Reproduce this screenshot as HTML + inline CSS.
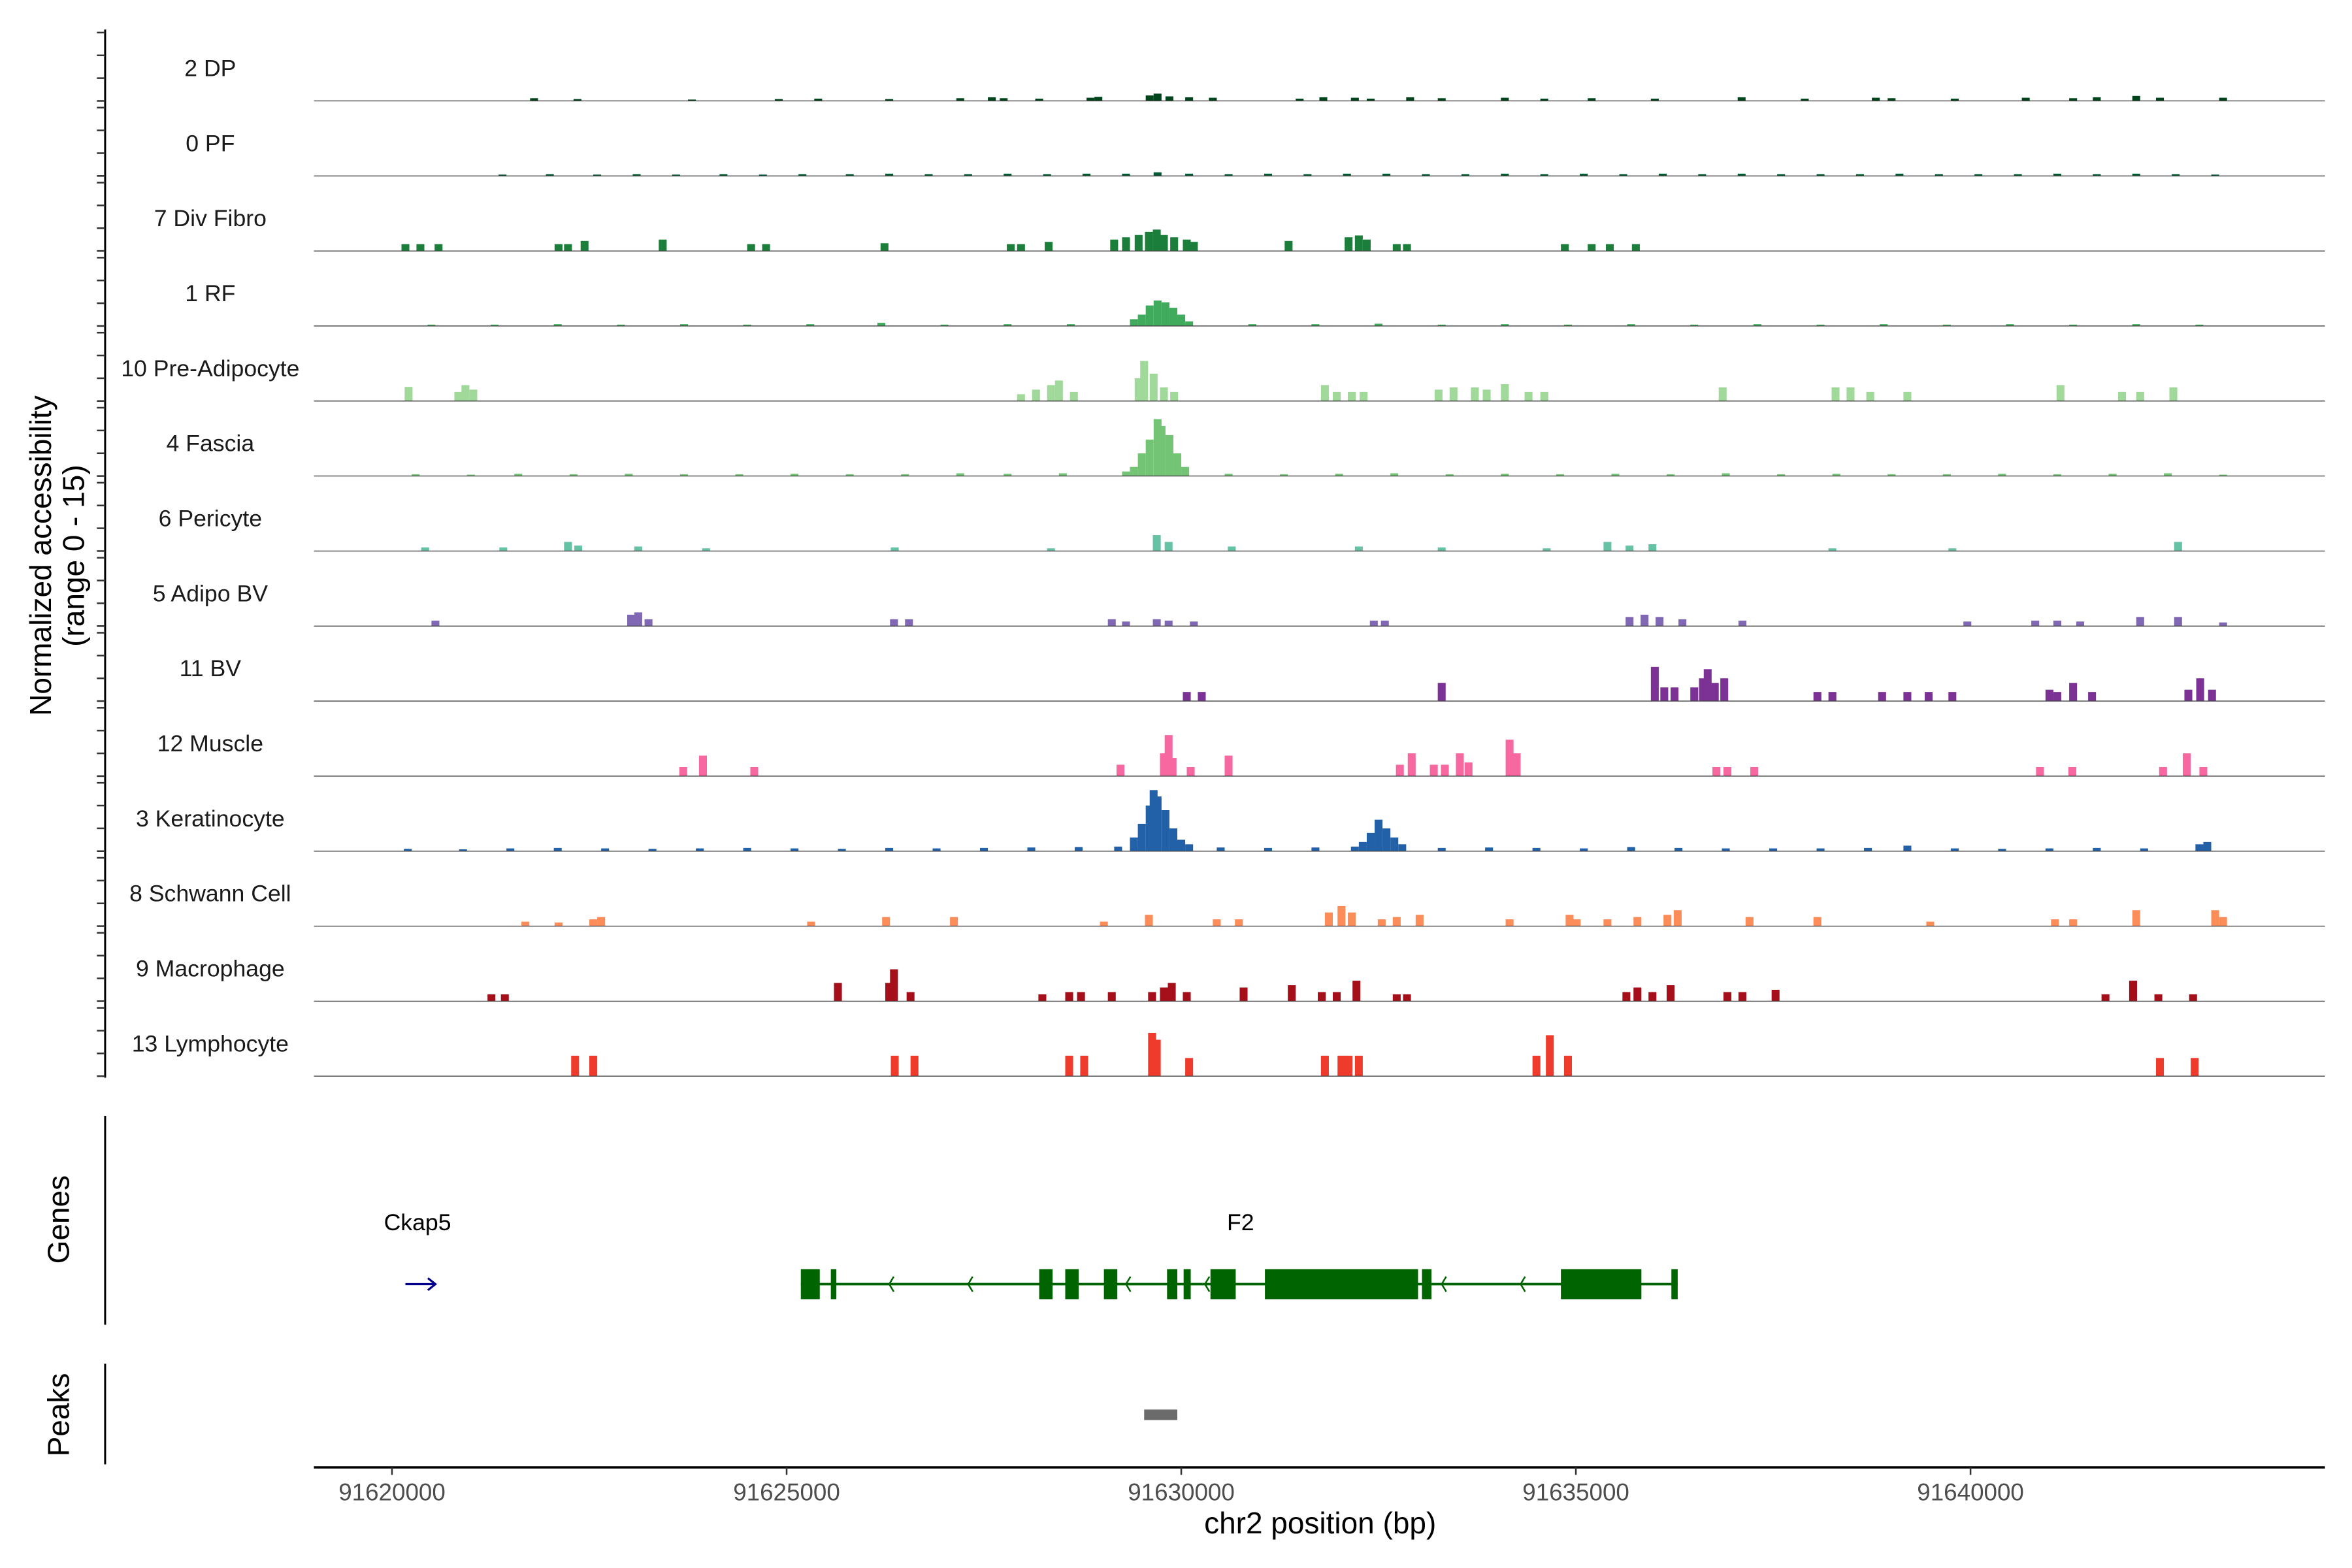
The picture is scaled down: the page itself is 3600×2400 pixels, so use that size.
<!DOCTYPE html>
<html><head><meta charset="utf-8">
<style>
html,body{margin:0;padding:0;background:#fff;}
svg{display:block;font-family:"Liberation Sans",Arial,sans-serif;}
</style></head>
<body>
<svg id="chart" width="3600" height="2400" viewBox="0 0 1566 1044" preserveAspectRatio="xMinYMin meet" xmlns="http://www.w3.org/2000/svg">
<g id="tracks"></g>
<g id="axes"></g>
<g id="genes"></g>
<g id="peaks"></g>
</svg>
<script>
// ---- data (positions in kb offset from 91,620,000; values on 0-15 scale) ----
const trackNames = ["2 DP","0 PF","7 Div Fibro","1 RF","10 Pre-Adipocyte","4 Fascia","6 Pericyte","5 Adipo BV","11 BV","12 Muscle","3 Keratinocyte","8 Schwann Cell","9 Macrophage","13 Lymphocyte"];
const trackColors = ["#00441b","#005a32","#1b7f3b","#41ab5d","#a1d99b","#74c476","#66c2a4","#8068b5","#7b3294","#f768a1","#2260a8","#fc8d59","#a50f1a","#ef3b2c"];
const dpBins = [[1.8,.6],[2.35,.4],[3.8,.3],[4.9,.4],[5.4,.5],[6.3,.4],[7.2,.6],[7.6,.8],[7.75,.6],[8.2,.5],[8.85,.7],[8.95,.9],[9.6,1.2],[9.7,1.6],[9.85,1.0],[10.1,.8],[10.4,.7],[11.5,.5],[11.8,.8],[12.2,.7],[12.4,.5],[12.9,.8],[13.3,.6],[14.1,.7],[14.6,.5],[15.2,.6],[16.0,.5],[17.1,.8],[17.9,.5],[18.8,.7],[19.0,.6],[19.8,.5],[20.7,.7],[21.3,.6],[21.6,.8],[22.1,1.1],[22.4,.7],[23.2,.7]];
const pfBins = [[1.4,.3],[2.0,.4],[2.6,.3],[3.1,.4],[3.6,.3],[4.2,.4],[4.7,.3],[5.2,.4],[5.8,.4],[6.3,.5],[6.8,.4],[7.3,.4],[7.8,.5],[8.3,.4],[8.8,.5],[9.3,.5],[9.7,.8],[10.1,.5],[10.6,.4],[11.1,.5],[11.6,.4],[12.1,.5],[12.6,.5],[13.1,.4],[13.6,.4],[14.1,.5],[14.6,.4],[15.1,.5],[15.6,.4],[16.1,.5],[16.6,.4],[17.1,.5],[17.6,.4],[18.1,.4],[18.6,.4],[19.1,.5],[19.6,.4],[20.1,.4],[20.6,.4],[21.1,.5],[21.6,.4],[22.1,.5],[22.6,.4],[23.1,.3]];
const divFibroBins = [[0.17,1.5],[0.36,1.5],[0.59,1.5],[2.11,1.5],[2.23,1.5],[2.44,2.2],[3.43,2.5],[4.55,1.5],[4.74,1.5],[6.24,1.7],[7.84,1.5],[7.97,1.5],[8.32,2],[9.15,2.5],[9.3,3],[9.46,3.5],[9.59,4.2],[9.69,4.7],[9.78,3.5],[9.91,3],[10.07,2.5],[10.16,2],[11.36,2.2],[12.12,3],[12.25,3.4],[12.35,2.5],[12.73,1.5],[12.86,1.5],[14.86,1.5],[15.2,1.5],[15.43,1.5],[15.76,1.5]];
const rfBins = [[0.5,.3],[1.3,.3],[2.1,.4],[2.9,.3],[3.7,.4],[4.5,.3],[5.3,.4],[6.2,.7],[7.0,.3],[7.8,.4],[8.6,.4],[9.4,1.5],[9.5,2.5],[9.6,4.5],[9.7,5.6],[9.8,5.2],[9.9,4],[10.0,2.5],[10.1,1],[10.9,.4],[11.7,.4],[12.5,.5],[13.3,.3],[14.1,.4],[14.9,.3],[15.7,.4],[16.5,.3],[17.3,.4],[18.1,.3],[18.9,.4],[19.7,.3],[20.5,.4],[21.3,.3],[22.1,.4],[22.9,.3]];
const preAdipoBins = [[0.21,3.1],[0.84,2],[0.93,3.5],[1.03,2.5],[7.97,1.5],[8.16,2.5],[8.35,3.5],[8.45,4.5],[8.64,2],[9.46,5],[9.53,8.8],[9.65,6],[9.78,3],[9.91,2],[11.82,3.5],[11.97,2],[12.16,2],[12.31,2],[13.26,2.5],[13.45,3],[13.72,3],[13.87,2.5],[14.1,3.7],[14.4,2],[14.6,2],[16.86,3],[18.29,3],[18.48,3],[18.73,2],[19.2,2],[21.14,3.5],[21.92,2],[22.15,2],[22.57,3]];
const fasciaBins = [[0.3,.4],[1.0,.3],[1.6,.5],[2.3,.4],[3.0,.5],[3.7,.4],[4.4,.4],[5.1,.5],[5.8,.4],[6.5,.4],[7.2,.6],[7.8,.5],[8.5,.6],[9.3,1],[9.4,2],[9.5,5],[9.6,8],[9.7,12.5],[9.75,11],[9.85,9],[9.95,5],[10.05,2],[10.6,.5],[11.3,.4],[12.0,.5],[12.7,.6],[13.4,.4],[14.1,.5],[14.8,.4],[15.5,.5],[16.2,.4],[16.9,.6],[17.6,.4],[18.3,.5],[19.0,.4],[19.7,.4],[20.4,.5],[21.1,.4],[21.8,.5],[22.5,.6],[23.2,.3]];
const pericyteBins = [[0.42,.8],[1.41,.8],[2.23,2],[2.36,1.2],[3.12,1],[3.98,.6],[6.37,.8],[8.35,.6],[9.69,3.5],[9.84,2],[10.64,1],[12.25,1],[13.3,.8],[14.63,.6],[15.4,2],[15.68,1.2],[15.97,1.5],[18.25,.6],[19.77,.6],[22.63,2]];
const adipoBvBins = [[0.55,1.2],[3.03,2.5],[3.12,3],[3.25,1.5],[6.36,1.5],[6.55,1.5],[9.12,1.5],[9.3,1],[9.69,1.5],[9.84,1.2],[10.16,1],[12.44,1.2],[12.58,1.2],[15.68,2],[15.87,2.5],[16.06,2],[16.35,1.5],[17.11,1.2],[19.96,1],[20.82,1.2],[21.1,1.2],[21.39,1],[22.15,2],[22.63,2],[23.2,.8]];
const bvBins = [[10.07,2],[10.26,2],[13.3,4],[16.0,7.5],[16.12,3],[16.25,3],[16.5,3],[16.61,5],[16.67,7],[16.76,4],[16.88,5],[18.06,2],[18.25,2],[18.88,2],[19.2,2],[19.47,2],[19.77,2],[21.0,2.5],[21.1,2],[21.3,4],[21.54,2],[22.76,2.5],[22.91,5],[23.06,2.5]];
const muscleBins = [[3.69,2],[3.94,4.5],[4.59,2],[9.23,2.5],[9.78,5],[9.84,9],[9.89,4],[10.12,2],[10.6,4.5],[12.77,2.5],[12.92,5],[13.2,2.5],[13.34,2.5],[13.53,5],[13.64,3],[14.16,8],[14.25,5],[16.78,2],[16.92,2],[17.26,2],[20.88,2],[21.29,2],[22.44,2],[22.74,5],[22.95,2]];
const keratinocyteBins = [[0.2,.5],[0.9,.4],[1.5,.6],[2.1,.7],[2.7,.6],[3.3,.5],[3.9,.6],[4.5,.7],[5.1,.6],[5.7,.5],[6.3,.7],[6.9,.6],[7.5,.7],[8.1,.8],[8.7,.9],[9.2,1],[9.4,3],[9.5,6],[9.6,10],[9.65,13.4],[9.7,12],[9.8,9],[9.9,5],[10.0,2.5],[10.1,1.5],[10.5,.8],[11.1,.7],[11.7,.8],[12.2,1],[12.3,2],[12.4,4],[12.5,6.9],[12.6,5],[12.7,3],[12.8,1.5],[13.3,.7],[13.9,.8],[14.5,.7],[15.1,.6],[15.7,.9],[16.3,.7],[16.9,.6],[17.5,.6],[18.1,.6],[18.7,.7],[19.2,1.2],[19.8,.6],[20.4,.5],[21.0,.6],[21.6,.7],[22.2,.6],[22.9,1.5],[23.0,2]];
const schwannBins = [[1.69,1],[2.11,.8],[2.55,1.5],[2.65,2],[5.31,1],[6.26,2],[7.12,2],[9.02,1],[9.59,2.5],[10.45,1.5],[10.73,1.5],[11.87,3],[12.03,4.4],[12.16,3],[12.54,1.5],[12.73,2],[13.02,2.5],[14.16,1.5],[14.92,2.5],[15.01,1.5],[15.4,1.5],[15.78,2],[16.16,2.5],[16.29,3.5],[17.2,2],[18.06,2],[19.49,1],[21.07,1.5],[21.3,1.5],[22.1,3.5],[23.1,3.5],[23.2,2]];
const macrophageBins = [[1.26,1.5],[1.43,1.5],[5.65,4],[6.3,4],[6.36,7],[6.57,2],[8.24,1.5],[8.58,2],[8.73,2],[9.12,2],[9.63,2],[9.78,3],[9.88,4],[10.07,2],[10.79,3],[11.4,3.5],[11.78,2],[11.97,2],[12.22,4.5],[12.73,1.5],[12.86,1.5],[15.64,2],[15.78,3],[15.97,2],[16.2,3.5],[16.92,2],[17.11,2],[17.53,2.5],[21.71,1.5],[22.06,4.5],[22.38,1.5],[22.82,1.5]];
const lymphocyteBins = [[2.32,4.5],[2.55,4.5],[6.37,4.5],[6.62,4.5],[8.58,4.5],[8.77,4.5],[9.63,9.5],[9.69,8],[10.1,4],[11.82,4.5],[12.03,4.5],[12.12,4.5],[12.25,4.5],[14.5,4.5],[14.67,9],[14.9,4.5],[22.4,4],[22.84,4]];
const trackBins = [dpBins,pfBins,divFibroBins,rfBins,preAdipoBins,fasciaBins,pericyteBins,adipoBvBins,bvBins,muscleBins,keratinocyteBins,schwannBins,macrophageBins,lymphocyteBins];
const xTicks = [91620000,91625000,91630000,91635000,91640000];
const f2Exons = [[5.18,5.42],[5.56,5.63],[8.2,8.37],[8.53,8.7],[9.02,9.19],[9.82,9.95],[10.03,10.12],[10.37,10.69],[11.06,13.0],[13.05,13.17],[14.81,15.83],[16.21,16.29]];
const f2Span = [5.18,16.29];
const f2Arrows = [6.3,7.3,9.3,10.3,13.3,14.3];
const ckap5Span = [0.17,0.55];
const peakRegions = [[9.53,9.95]];

// ---- scales ----
const ORIGIN = 91620000;
const X0 = 261, PX_PER_KB = 52.55;
function xk(kb){ return X0 + kb*PX_PER_KB; }
function xbp(bp){ return xk((bp-ORIGIN)/1000); }
const TRACK_TOP = 21.7, TRACK_STEP = 49.95, UNIT = 45.5/15;
function baseY(i){ return TRACK_TOP + 45.5 + i*TRACK_STEP; }
const BIN_KB = 0.1;
const NS = "http://www.w3.org/2000/svg";
function mk(tag, attrs, parent){ const e=document.createElementNS(NS,tag); for(const k in attrs) e.setAttribute(k,attrs[k]); parent.appendChild(e); return e; }

const tracksG = document.getElementById('tracks');
trackNames.forEach((name,i)=>{
  const g = mk('g',{},tracksG);
  
  
  const by = baseY(i);
  trackBins[i].forEach(b=>{
    const h = b[1]*UNIT;
    const r = mk('rect',{x:xk(b[0]-BIN_KB/2),y:by-h,width:BIN_KB*PX_PER_KB,height:h,fill:trackColors[i]},g);
    
    
  });
  const bl = mk('line',{x1:209,x2:1548,y1:by,y2:by,stroke:'#444','stroke-width':0.6},g);
  
  
  const t = mk('text',{x:140,y:by-16.5,'text-anchor':'middle','font-size':15.5,fill:'#1a1a1a'},g);
  t.textContent = name;
  
  
});

// ---- axes ----
const axG = document.getElementById('axes');
const yl = mk('line',{x1:70,x2:70,y1:TRACK_TOP-2,y2:baseY(13)+1,stroke:'#000','stroke-width':1.3},axG);


trackNames.forEach((n,i)=>{
  for(let k=0;k<4;k++){
    const y = baseY(i) - k*5*UNIT;
    const tk = mk('line',{x1:64.5,x2:70,y1:y,y2:y,stroke:'#333','stroke-width':1.1},axG);
    
    
  }
});
const yt = mk('text',{transform:'translate(35,370) rotate(-90)','text-anchor':'middle','font-size':20,fill:'#000'},axG);


const ts1 = mk('tspan',{x:0,dy:-1},yt); ts1.textContent='Normalized accessibility';
const ts2 = mk('tspan',{x:0,dy:22},yt); ts2.textContent='(range 0 - 15)';

const xl = mk('line',{x1:209,x2:1548,y1:977,y2:977,stroke:'#000','stroke-width':1.5},axG);


xTicks.forEach(v=>{
  const x = xbp(v);
  const tk = mk('line',{x1:x,x2:x,y1:977,y2:982,stroke:'#333','stroke-width':1.1},axG);
  
  
  const lb = mk('text',{x:x,y:999,'text-anchor':'middle','font-size':16,fill:'#4d4d4d'},axG);
  lb.textContent = v;
  
  
});
const xt = mk('text',{x:879,y:1021,'text-anchor':'middle','font-size':20,fill:'#000'},axG);
xt.textContent = 'chr2 position (bp)';



// ---- genes ----
const gG = document.getElementById('genes');
const gl = mk('line',{x1:70,x2:70,y1:743,y2:882,stroke:'#000','stroke-width':1.3},gG);


const gt = mk('text',{transform:'translate(46,812) rotate(-90)','text-anchor':'middle','font-size':20,fill:'#000'},gG);
gt.textContent='Genes';


const GY = 855;
const intron = mk('line',{x1:xk(f2Span[0]),x2:xk(f2Span[1]),y1:GY,y2:GY,stroke:'#006400','stroke-width':1.6},gG);


f2Exons.forEach(e=>{
  const r = mk('rect',{x:xk(e[0]),y:GY-10,width:Math.max(2,xk(e[1])-xk(e[0])),height:20,fill:'#006400'},gG);
  
  
});
f2Arrows.forEach(a=>{
  const x = xk(a);
  const p = mk('path',{d:`M${x+3},${GY-5} L${x},${GY} L${x+3},${GY+5}`,fill:'none',stroke:'#006400','stroke-width':1.1},gG);
  
  
});
const f2l = mk('text',{x:826,y:819,'text-anchor':'middle','font-size':15.5,fill:'#000'},gG);
f2l.textContent='F2';


const ck = mk('path',{d:`M${xk(ckap5Span[0])},${GY} L${xk(ckap5Span[1])},${GY} M${xk(ckap5Span[1])-5},${GY-4} L${xk(ckap5Span[1])},${GY} L${xk(ckap5Span[1])-5},${GY+4}`,fill:'none',stroke:'#00008b','stroke-width':1.4},gG);


const ckl = mk('text',{x:278,y:819,'text-anchor':'middle','font-size':15.5,fill:'#000'},gG);
ckl.textContent='Ckap5';



// ---- peaks ----
const pG = document.getElementById('peaks');
const pl = mk('line',{x1:70,x2:70,y1:908,y2:975,stroke:'#000','stroke-width':1.3},pG);


const pt = mk('text',{transform:'translate(46,942) rotate(-90)','text-anchor':'middle','font-size':20,fill:'#000'},pG);
pt.textContent='Peaks';


peakRegions.forEach(p=>{
  const r = mk('rect',{x:xk(p[0]),y:938.5,width:xk(p[1])-xk(p[0]),height:7,fill:'#6b6b6b'},pG);
  
  
});
</script>
</body></html>
